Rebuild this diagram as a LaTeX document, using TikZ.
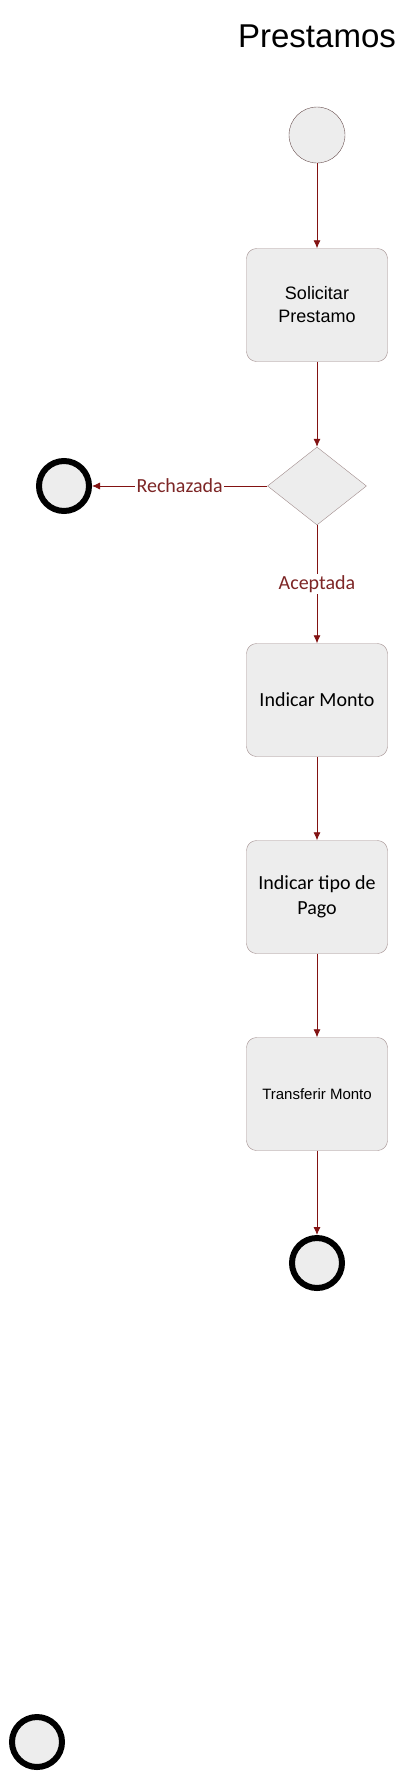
\documentclass[tikz,border=0pt]{standalone}
\usepackage{fontspec}
\setmainfont{Liberation Sans}
\newfontfamily\labelfont{Carlito}
\usetikzlibrary{arrows.meta,shapes.geometric}
\definecolor{flowred}{RGB}{130,18,18}
\definecolor{guardred}{RGB}{125,38,38}
\definecolor{boxline}{RGB}{160,140,140}
\definecolor{boxfill}{RGB}{237,237,237}
\definecolor{startline}{RGB}{105,80,80}
\begin{document}
\begin{tikzpicture}[x=1pt,y=-1pt,
  activity/.style={draw=boxline,fill=boxfill,rounded corners=10pt,
    minimum width=141pt,minimum height=113pt,align=center,inner sep=2pt},
  decision/.style={draw=boxline,fill=boxfill,diamond,aspect=1.27,
    minimum width=99pt,minimum height=78pt,inner sep=0pt},
  startnode/.style={circle,draw=startline,fill=boxfill,minimum size=56pt,inner sep=0pt},
  endnode/.style={circle,draw=black,line width=6pt,fill=boxfill,minimum size=50pt,inner sep=0pt},
  flow/.style={draw=flowred,line width=0.8pt,-{Latex[length=8pt,width=7pt]}},
  guard/.style={fill=white,text=guardred,inner sep=1.5pt,font=\labelfont\fontsize{20}{24}\selectfont}]
  \useasboundingbox (0,0) rectangle (417,1786);
  \node[anchor=base,font=\fontsize{33}{38}\selectfont] (title) at (317,47) {Prestamos};
  \node[startnode] (inicio) at (317,135) {};
  \node[activity,font=\fontsize{18}{23}\selectfont] (solicitar) at (317,305) {Solicitar\\Prestamo};
  \node[decision] (decide) at (317,486) {};
  \node[endnode] (rechazo) at (64,486) {};
  \node[activity,font=\labelfont\fontsize{20}{25}\selectfont] (monto) at (317,700) {Indicar Monto};
  \node[activity,font=\labelfont\fontsize{20}{25}\selectfont] (tipo) at (317,897) {Indicar tipo de\\Pago};
  \node[activity,font=\fontsize{15}{18}\selectfont] (transferir) at (317,1094) {Transferir Monto};
  \node[endnode] (fin) at (317,1263) {};
  \node[endnode] (suelto) at (37,1742) {};
  % flujo
  \draw[flow] (inicio) -- (solicitar);
  \draw[flow] (solicitar) -- (decide);
  \draw[flow] (decide.west) -- node[guard] (rechazada) {Rechazada} (rechazo);
  \draw[flow] (decide.south) -- node[guard] (aceptada) {Aceptada} (monto);
  \draw[flow] (monto) -- (tipo);
  \draw[flow] (tipo) -- (transferir);
  \draw[flow] (transferir) -- (fin);
\end{tikzpicture}
\end{document}
